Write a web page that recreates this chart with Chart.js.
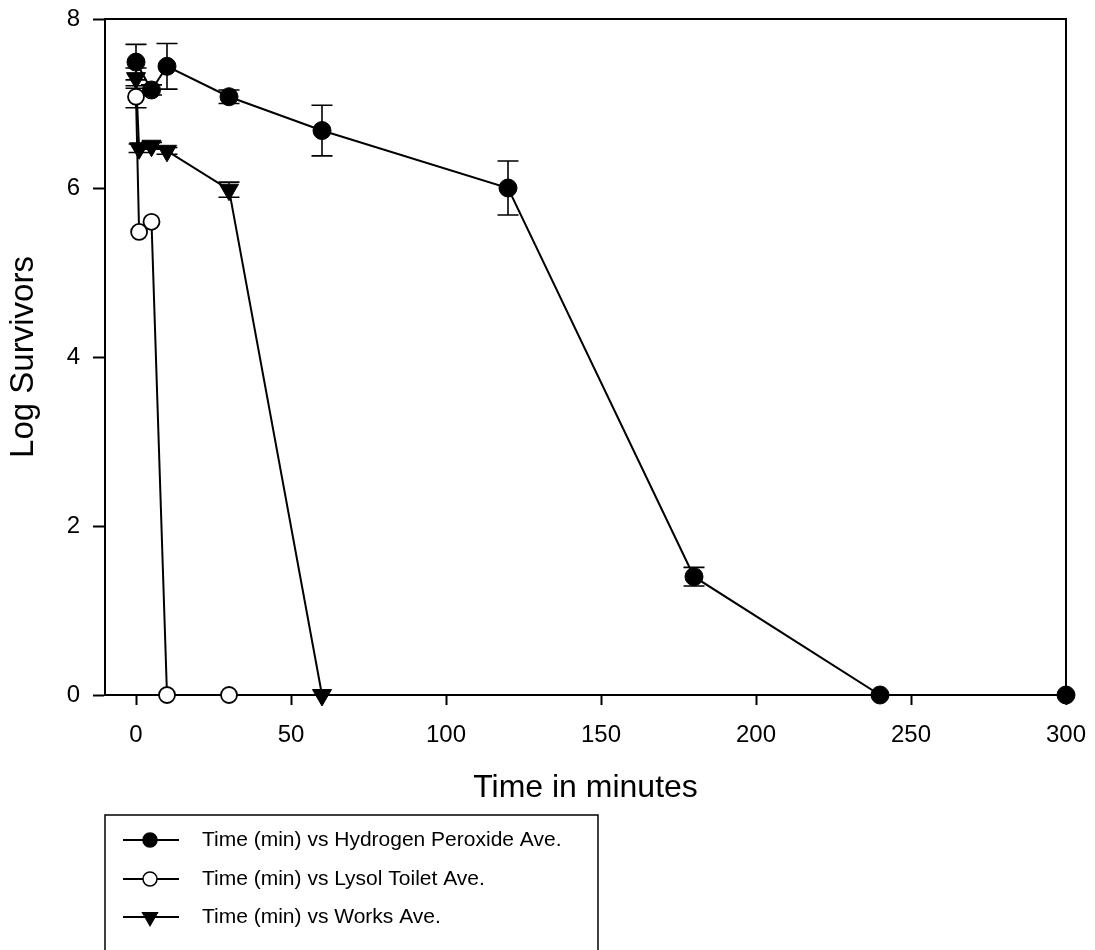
<!DOCTYPE html>
<html>
<head>
<meta charset="utf-8">
<script src="https://cdn.jsdelivr.net/npm/chart.js@4.4.1/dist/chart.umd.min.js"></script>
<style>
  html, body { margin: 0; padding: 0; background: #fff; }
  #wrap { position: relative; width: 1095px; height: 950px; }
</style>
</head>
<body>
<div id="wrap"><canvas id="chart"></canvas></div>
<script>
// Hydrogen peroxide series (time in min, log survivors, +/- error)
const hpTimes = [0, 5, 10, 30, 60, 120, 180, 240, 300];
const hpValues = [7.49, 7.16, 7.44, 7.08, 6.68, 6.00, 1.40, 0, 0];
const hpErrors = [0.21, 0.06, 0.27, 0.08, 0.30, 0.32, 0.11, 0, 0];

// Lysol toilet series
const lysolTimes = [0, 1, 5, 10, 30];
const lysolValues = [7.08, 5.48, 5.60, 0, 0];
const lysolErrors = [0.13, 0, 0, 0, 0];

// Works series
const worksTimes = [0, 1, 5, 10, 30, 60];
const worksValues = [7.30, 6.47, 6.50, 6.44, 5.98, 0];
const worksErrors = [0.12, 0.05, 0.04, 0.04, 0.09, 0];

const xTicks = [0, 50, 100, 150, 200, 250, 300];
const yTicks = [0, 2, 4, 6, 8];

const seriesLabels = [
    'Time (min) vs Hydrogen Peroxide Ave.',
    'Time (min) vs Lysol Toilet Ave.',
    'Time (min) vs Works Ave.'
];

const FONT = "'Liberation Sans', Arial, sans-serif";

function toPoints(xs, ys) {
    return xs.map((x, i) => ({ x: x, y: ys[i] }));
}

// draws the marker used in the legend
function drawMarker(ctx, style, x, y, r) {
    ctx.save();
    ctx.lineWidth = 1.5;
    ctx.strokeStyle = '#000';
    ctx.beginPath();
    if (style === 'tri') {
        ctx.moveTo(x - r * 0.866, y - r * 0.5);
        ctx.lineTo(x + r * 0.866, y - r * 0.5);
        ctx.lineTo(x, y + r);
        ctx.closePath();
        ctx.fillStyle = '#000';
    } else {
        ctx.arc(x, y, r, 0, Math.PI * 2);
        ctx.fillStyle = style === 'open' ? '#fff' : '#000';
    }
    ctx.fill();
    ctx.stroke();
    ctx.restore();
}

const errorSets = [hpErrors, lysolErrors, worksErrors];

// Error bars
const errorBars = {
    id: 'errorBars',
    beforeDatasetsDraw(chart) {
        const ctx = chart.ctx;
        const xs = chart.scales.x, ys = chart.scales.y;
        ctx.save();
        ctx.strokeStyle = '#000';
        ctx.lineWidth = 1.6;
        chart.data.datasets.forEach((ds, di) => {
            const errs = errorSets[di];
            ds.data.forEach((p, i) => {
                const e = errs[i];
                if (!e) return;
                const px = xs.getPixelForValue(p.x);
                const top = ys.getPixelForValue(p.y + e);
                const bot = ys.getPixelForValue(p.y - e);
                ctx.beginPath();
                ctx.moveTo(px, top); ctx.lineTo(px, bot);
                ctx.moveTo(px - 10.5, top); ctx.lineTo(px + 10.5, top);
                ctx.moveTo(px - 10.5, bot); ctx.lineTo(px + 10.5, bot);
                ctx.stroke();
            });
        });
        ctx.restore();
    }
};

// Top / right frame plus the boxed legend under the plot
const frameAndLegend = {
    id: 'frameAndLegend',
    afterDraw(chart) {
        const ctx = chart.ctx;
        const a = chart.chartArea;
        ctx.save();
        ctx.strokeStyle = '#000';
        ctx.lineWidth = 2;
        ctx.beginPath();
        ctx.moveTo(a.left, a.top);
        ctx.lineTo(a.right, a.top);
        ctx.lineTo(a.right, a.bottom);
        ctx.stroke();

        // legend box
        ctx.lineWidth = 1.5;
        ctx.strokeRect(105, 815, 493, 140);

        const styles = ['filled', 'open', 'tri'];
        const rowsY = [840, 879, 917];
        ctx.font = '21px ' + FONT;
        ctx.fillStyle = '#000';
        ctx.textBaseline = 'middle';
        ctx.textAlign = 'left';
        seriesLabels.forEach((label, i) => {
            const y = rowsY[i];
            ctx.lineWidth = 2;
            ctx.beginPath();
            ctx.moveTo(123, y);
            ctx.lineTo(179, y);
            ctx.stroke();
            drawMarker(ctx, styles[i], 150, y, styles[i] === 'tri' ? 8.5 : 7);
            ctx.fillStyle = '#000';
            ctx.fillText(label, 202, y);
        });
        ctx.restore();
    }
};

const ctx = document.getElementById('chart').getContext('2d');
new Chart(ctx, {
    type: 'scatter',
    data: {
        datasets: [
            {
                label: seriesLabels[0],
                data: toPoints(hpTimes, hpValues),
                showLine: true,
                borderColor: '#000',
                borderWidth: 2,
                backgroundColor: '#000',
                pointStyle: 'circle',
                pointRadius: 9,
                pointHoverRadius: 9,
                pointBorderWidth: 1,
                pointBackgroundColor: '#000',
                pointBorderColor: '#000',
                clip: false
            },
            {
                label: seriesLabels[1],
                data: toPoints(lysolTimes, lysolValues),
                showLine: true,
                borderColor: '#000',
                borderWidth: 2,
                pointStyle: 'circle',
                pointRadius: 8,
                pointHoverRadius: 8,
                pointBorderWidth: 1.8,
                pointBackgroundColor: '#fff',
                pointBorderColor: '#000',
                clip: false
            },
            {
                label: seriesLabels[2],
                data: toPoints(worksTimes, worksValues),
                showLine: true,
                borderColor: '#000',
                borderWidth: 2,
                pointStyle: 'triangle',
                pointRotation: 180,
                pointRadius: 11,
                pointHoverRadius: 11,
                pointBorderWidth: 1,
                pointBackgroundColor: '#000',
                pointBorderColor: '#000',
                clip: false
            }
        ]
    },
    options: {
        responsive: true,
        maintainAspectRatio: false,
        animation: false,
        layout: { padding: { top: 19, right: 29, bottom: 0, left: 0 } },
        plugins: {
            legend: { display: false },
            tooltip: { enabled: false }
        },
        scales: {
            x: {
                type: 'linear',
                min: -10,
                max: 300,
                afterBuildTicks: (s) => { s.ticks = xTicks.map(v => ({ value: v })); },
                afterFit: (s) => {
                    s.height = 255;
                    s.paddingLeft = 0;
                    s.paddingRight = 0;
                },
                border: { display: true, color: '#000', width: 2 },
                grid: {
                    display: true, drawOnChartArea: false, drawTicks: true,
                    tickLength: 10, tickWidth: 2, tickColor: '#000'
                },
                ticks: {
                    color: '#000',
                    padding: 16,
                    maxRotation: 0,
                    font: { family: FONT, size: 24 }
                },
                title: {
                    display: true,
                    text: 'Time in minutes',
                    color: '#000',
                    font: { family: FONT, size: 32 },
                    padding: { top: 0, bottom: 143 }
                }
            },
            y: {
                type: 'linear',
                min: 0,
                max: 8,
                afterBuildTicks: (s) => { s.ticks = yTicks.map(v => ({ value: v })); },
                afterFit: (s) => {
                    s.width = 105;
                    s.paddingTop = 0;
                    s.paddingBottom = 0;
                },
                border: { display: true, color: '#000', width: 2 },
                grid: {
                    display: true, drawOnChartArea: false, drawTicks: true,
                    tickLength: 12, tickWidth: 2, tickColor: '#000'
                },
                ticks: {
                    color: '#000',
                    padding: 13,
                    font: { family: FONT, size: 24 }
                },
                title: {
                    display: true,
                    text: 'Log Survivors',
                    color: '#000',
                    font: { family: FONT, size: 33 },
                    padding: { top: 4, bottom: 0 }
                }
            }
        }
    },
    plugins: [errorBars, frameAndLegend]
});
</script>
</body>
</html>
